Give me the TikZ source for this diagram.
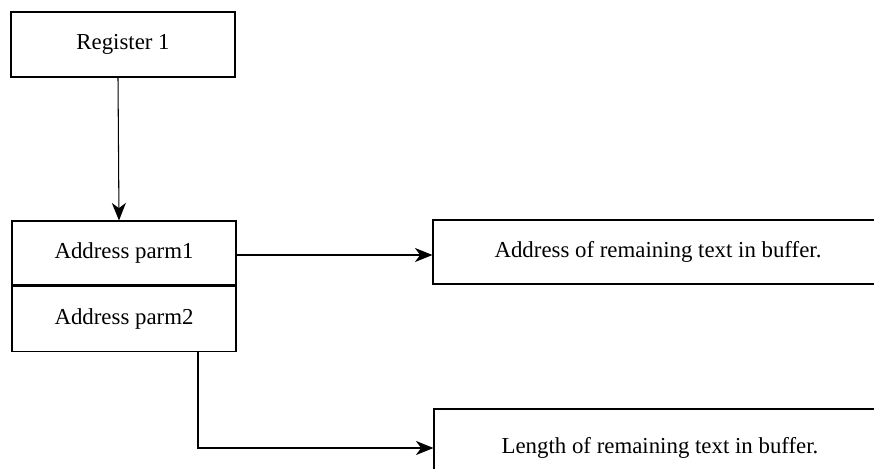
\documentclass[tikz,border=0pt]{standalone}
\usepackage{fontspec}
\setmainfont{Liberation Serif}
\usepackage{tikz}
\usetikzlibrary{arrows.meta,calc}

\tikzset{
  box/.style={draw, line width=0.6pt, inner sep=0pt, font=\fontsize{13}{15}\selectfont},
  link/.style={line width=0.6pt, -{Stealth[length=10pt,width=8pt,inset=3pt]}}
}

\begin{document}
\begin{tikzpicture}[x=0.02cm,y=-0.02cm]
  \useasboundingbox (0,0) rectangle (874,469);
  \clip (0,0) rectangle (874,469);
  \node[box, minimum width=224*0.02cm, minimum height=65*0.02cm] (reg) at (123,44.5) {Register 1};
  \node[box, minimum width=224*0.02cm, minimum height=64*0.02cm] (parm1) at (124,253) {Address parm1};
  \node[box, minimum width=224*0.02cm, minimum height=65*0.02cm, anchor=north] (parm2) at (parm1.south) {Address parm2};
  \node[box, minimum width=450*0.02cm, minimum height=64*0.02cm] (addr) at (658,252) {Address of remaining text in buffer.};
  \node[box, minimum width=452*0.02cm, minimum height=78*0.02cm] (len) at (660,448) {Length of remaining text in buffer.};
  \draw[link] ([xshift=-0.1cm]reg.south) -- ([xshift=-0.1cm]parm1.north);
  \draw[link] ($(parm1.east)+(0,2)$) -- ($(parm1.east -| addr.west)+(0,2)$);
  \draw[link] ([xshift=1.48cm]parm2.south) |- (len.west);
\end{tikzpicture}
\end{document}
